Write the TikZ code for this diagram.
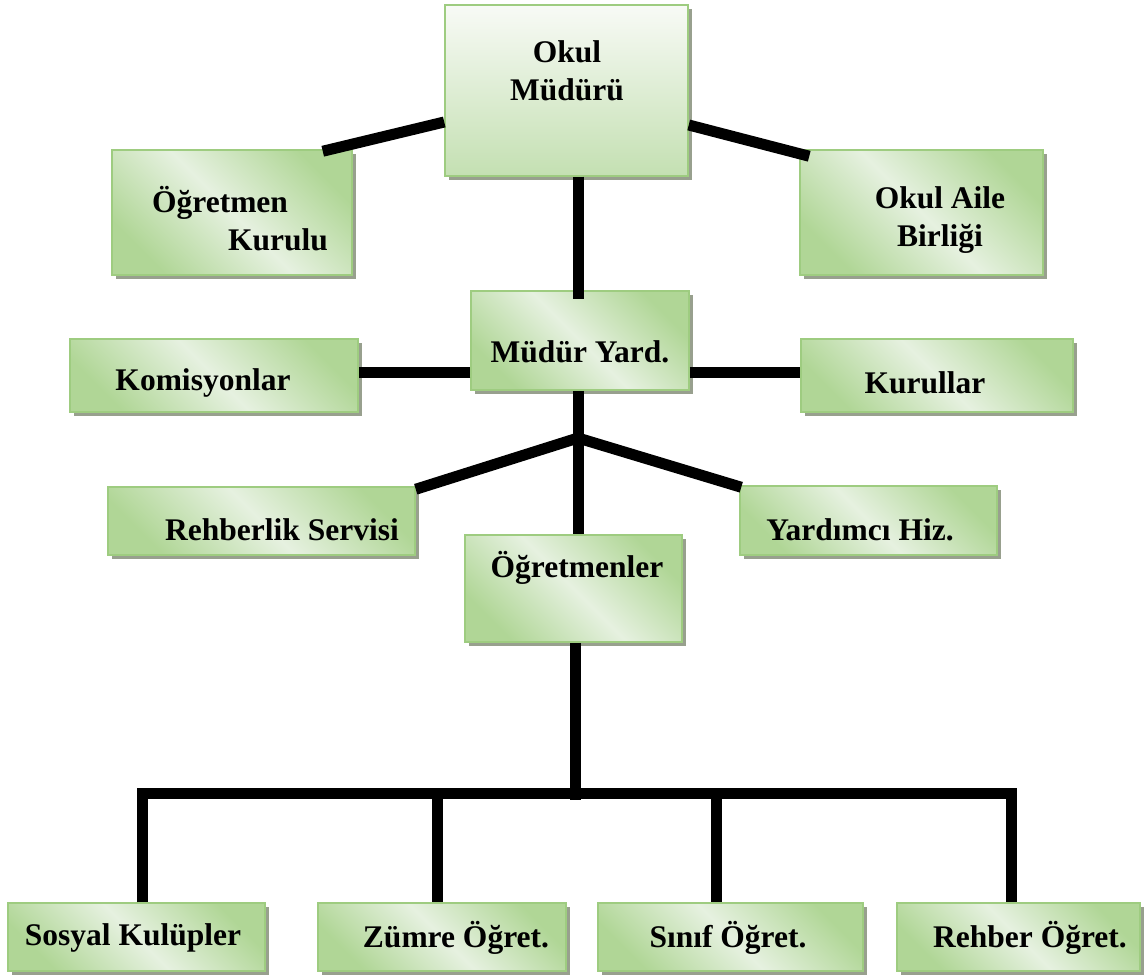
\documentclass[tikz,border=0pt]{standalone}
\usepackage{fontspec}
\setmainfont{Liberation Serif}
\usetikzlibrary{shadows,calc}
\definecolor{boxgreen}{RGB}{158,204,128}
\definecolor{lightgreen}{RGB}{230,241,224}
\definecolor{midgreen}{RGB}{176,214,150}
\definecolor{topwhite}{RGB}{248,250,246}
\definecolor{bottomgreen}{RGB}{196,224,178}
\definecolor{shadowgray}{RGB}{152,160,142}

\begin{document}
\begin{tikzpicture}[x=1pt, y=-1pt,
        orgbox/.style={rectangle, draw=boxgreen, line width=1.5pt, inner sep=0pt,
            top color=midgreen, bottom color=midgreen, middle color=lightgreen, shading angle=-45,
            drop shadow={shadow xshift=4pt, shadow yshift=-4pt, fill=shadowgray, opacity=1}},
        topbox/.style={orgbox, top color=topwhite, bottom color=bottomgreen, middle color=topwhite!50!bottomgreen, shading angle=0},
        orgtext/.style={font=\fontsize{31.5}{38}\selectfont\bfseries, inner sep=0pt, align=center},
        link/.style={line width=11pt, black}
    ]
    \useasboundingbox (0,0) rectangle (1147,976);

    % Top level
    \node[topbox, minimum width=243pt, minimum height=171pt] (okul) at (566.5,90.5) {};
    \node[orgtext] (okul-t) at (567,71) {Okul\\Müdürü};

    \node[orgbox, minimum width=240pt, minimum height=125pt] (kurulu) at (232,212.5) {};
    \node[orgtext, align=left] (kurulu-t) at (240,219) {Öğretmen\\\hspace*{76pt}Kurulu};

    \node[orgbox, minimum width=243pt, minimum height=125pt] (aile) at (921.5,212.5) {};
    \node[orgtext] (aile-t) at (940,220) {Okul Aile\\Birliği};

    % Middle level
    \node[orgbox, minimum width=218pt, minimum height=99pt] (yard) at (580,340.5) {};
    \node[orgtext] (yard-t) at (580,352) {Müdür Yard.};

    \node[orgbox, minimum width=288pt, minimum height=73pt] (komis) at (214,375.5) {};
    \node[orgtext] (komis-t) at (203,383) {Komisyonlar};

    \node[orgbox, minimum width=272pt, minimum height=73pt] (kurul) at (937,375.5) {};
    \node[orgtext] (kurul-t) at (925,383) {Kurullar};

    \node[orgbox, minimum width=307pt, minimum height=68pt] (rehb) at (261.5,521) {};
    \node[orgtext] (rehb-t) at (282,530) {Rehberlik Servisi};

    \node[orgbox, minimum width=257pt, minimum height=69pt] (hiz) at (868.5,520.5) {};
    \node[orgtext] (hiz-t) at (860,530) {Yardımcı Hiz.};

    \node[orgbox, minimum width=217pt, minimum height=107pt] (ogrm) at (573.5,588.5) {};
    \node[orgtext] (ogrm-t) at (577,568) {Öğretmenler};

    % Bottom row
    \node[orgbox, minimum width=257pt, minimum height=68pt] (sosyal) at (136.5,937) {};
    \node[orgtext] (sosyal-t) at (133,938) {Sosyal Kulüpler};

    \node[orgbox, minimum width=248pt, minimum height=68pt] (zumre) at (442,937) {};
    \node[orgtext] (zumre-t) at (456,938) {Zümre Öğret.};

    \node[orgbox, minimum width=265pt, minimum height=68pt] (sinif) at (730.5,937) {};
    \node[orgtext] (sinif-t) at (728,938) {Sınıf Öğret.};

    \node[orgbox, minimum width=243pt, minimum height=68pt] (rehber) at (1018.5,937) {};
    \node[orgtext] (rehber-t) at (1030,938) {Rehber Öğret.};

    % Connectors
    \coordinate (junc) at (578,438);
    \coordinate (bus) at (575,793);
    \coordinate (d1) at (142,793);
    \coordinate (d2) at (437,793);
    \coordinate (d3) at (716,793);
    \coordinate (d4) at (1011,793);

    \draw[link] ([yshift=-31.5pt]okul.west) -- ([xshift=-30pt,yshift=-2pt]kurulu.north east);
    \draw[link] ([yshift=-34.5pt]okul.east) -- ([xshift=10pt,yshift=-7pt]aile.north west);
    \draw[link] (okul.south -| junc) -- ([yshift=-9pt]yard.north -| junc);

    \draw[link] ([yshift=-31.5pt]yard.west) -- ([yshift=-31.5pt]yard.west -| komis.east);
    \draw[link] ([yshift=-31.5pt]yard.east) -- ([yshift=-31.5pt]yard.east -| kurul.west);
    \draw[link] (yard.south -| junc) -- (ogrm.north -| junc);
    \draw[link] (junc) -- ([yshift=-3pt]rehb.north east);
    \draw[link] (junc) -- ([xshift=2pt,yshift=-2pt]hiz.north west);

    \draw[link] (ogrm.south -| bus) -- ([yshift=-7pt]bus);
    \draw[link, line join=miter] (sosyal.north -| d1) |- (d4) -- (rehber.north -| d4);
    \draw[link] (d2) -- (zumre.north -| d2);
    \draw[link] (d3) -- (sinif.north -| d3);

\end{tikzpicture}
\end{document}
